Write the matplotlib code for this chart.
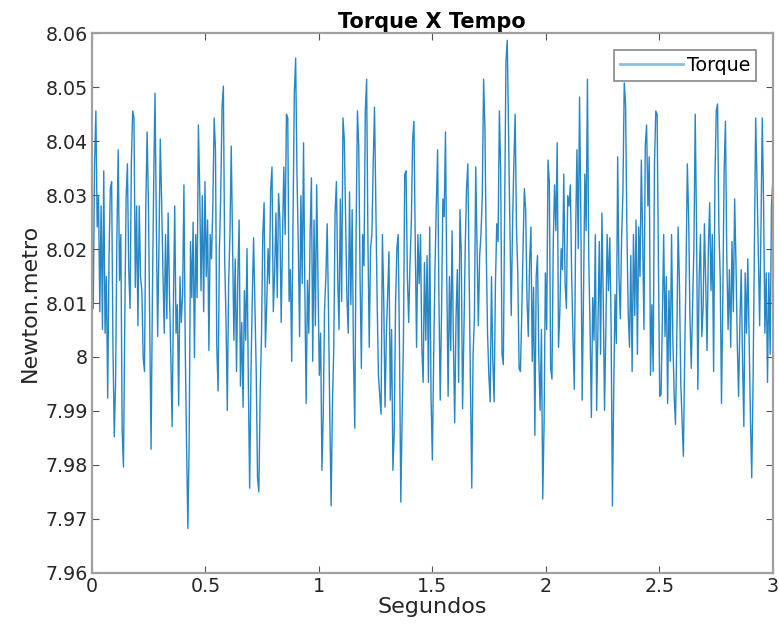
import matplotlib.pyplot as plt
import numpy as np

# Leituras do torque (N.m), em blocos de ~0.5 s
torque_0 = [8.0175, 8.0090, 8.0358, 8.0456, 8.0241, 8.0299, 8.0084, 8.0280, 8.0051, 8.0345,
            8.0044, 8.0149, 7.9924, 8.0182, 8.0312, 8.0325, 8.0018, 7.9852, 7.9953, 8.0221,
            8.0384, 8.0142, 8.0227, 7.9865, 7.9796, 8.0067, 8.0293, 8.0358, 8.0162, 8.0090,
            8.0358, 8.0456, 8.0443, 8.0129, 8.0280, 8.0058, 8.0280, 8.0149, 8.0123, 7.9999,
            7.9973, 8.0280, 8.0417, 8.0280, 8.0051, 7.9829, 8.0110, 8.0325, 8.0489, 8.0247,
            8.0038, 8.0205, 8.0404, 8.0293, 8.0162, 8.0044, 8.0227, 8.0071, 8.0267, 8.0116,
            8.0005, 7.9871, 8.0097, 8.0280, 8.0044, 8.0097, 7.9910, 8.0149, 8.0064, 8.0116,
            8.0319, 8.0018, 7.9835, 7.9682, 7.9848, 8.0214, 8.0110, 8.0250, 7.9999, 8.0227,
            8.0110, 8.0430, 8.0312]
torque_1 = [8.0123, 8.0299, 8.0084, 8.0325, 8.0149, 8.0254, 8.0012, 8.0227, 8.0182, 8.0280,
            8.0443, 8.0384, 8.0018, 7.9937, 8.0201, 8.0299, 8.0463, 8.0502, 8.0182, 8.0071,
            7.9901, 8.0136, 8.0227, 8.0391, 8.0208, 8.0031, 8.0182, 7.9973, 8.0149, 8.0254,
            7.9946, 8.0064, 7.9907, 8.0123, 8.0031, 8.0201, 7.9953, 7.9757, 7.9966, 8.0110,
            8.0221, 8.0097, 7.9973, 7.9776, 7.9750, 7.9933, 8.0038, 8.0227, 8.0286, 8.0018,
            8.0097, 8.0201, 8.0136, 8.0312, 8.0352, 8.0084, 8.0156, 8.0267, 8.0110, 8.0303,
            8.0254, 8.0064, 8.0221, 8.0352, 8.0227, 8.0450, 8.0443, 8.0103, 8.0162, 7.9992,
            8.0254, 8.0489, 8.0554, 8.0339, 8.0208, 8.0038, 8.0299, 8.0136, 8.0397, 8.0123,
            7.9914, 8.0142, 8.0044, 8.0227, 8.0332, 7.9992]
torque_2 = [8.0254, 8.0058, 8.0319, 8.0149, 7.9966, 8.0044, 7.9790, 7.9894, 8.0090, 8.0149,
            8.0247, 8.0084, 7.9888, 7.9724, 7.9914, 8.0018, 8.0267, 8.0325, 8.0149, 8.0051,
            8.0293, 8.0103, 8.0443, 8.0404, 8.0260, 8.0110, 8.0044, 8.0306, 8.0097, 8.0273,
            7.9999, 7.9868, 8.0234, 8.0456, 8.0391, 8.0149, 7.9979, 8.0227, 8.0169, 8.0456,
            8.0515, 8.0214, 8.0018, 8.0201, 8.0227, 8.0358, 8.0463, 8.0286, 8.0103, 7.9966,
            7.9927, 7.9894, 8.0227, 8.0110, 7.9907, 8.0038, 8.0116, 8.0195, 7.9920, 8.0051,
            7.9790, 7.9861, 8.0097, 8.0201, 8.0227, 8.0018, 7.9731, 7.9888, 8.0031, 8.0339,
            8.0345, 8.0149, 8.0064, 8.0175, 8.0247, 8.0404, 8.0437, 8.0208, 8.0018, 8.0227,
            8.0136, 8.0227, 8.0018, 7.9953, 8.0175]
torque_3 = [8.0031, 8.0188, 7.9953, 8.0241, 7.9927, 7.9809, 7.9999, 8.0162, 8.0280, 8.0384,
            8.0110, 7.9920, 8.0084, 8.0293, 8.0260, 8.0417, 8.0136, 7.9927, 8.0149, 8.0012,
            8.0234, 8.0031, 7.9878, 8.0071, 8.0162, 7.9953, 8.0273, 8.0195, 7.9904, 8.0044,
            8.0201, 8.0312, 8.0358, 8.0149, 7.9946, 7.9757, 8.0005, 8.0071, 8.0352, 8.0201,
            8.0058, 8.0188, 8.0227, 8.0299, 8.0515, 8.0424, 8.0201, 8.0044, 7.9966, 7.9917,
            8.0149, 7.9992, 7.9917, 8.0136, 8.0247, 8.0214, 8.0456, 8.0345, 8.0005, 7.9986,
            8.0260, 8.0548, 8.0587, 8.0410, 8.0241, 8.0077, 8.0241, 8.0358, 8.0450, 8.0241,
            8.0156, 7.9979, 7.9973, 8.0077, 8.0201, 8.0312, 8.0273, 8.0110, 8.0038, 8.0175,
            8.0241, 7.9992, 8.0129, 7.9855, 8.0149]
torque_4 = [8.0188, 7.9999, 7.9901, 8.0051, 7.9737, 7.9875, 8.0156, 8.0051, 8.0365, 8.0325,
            7.9979, 7.9959, 8.0214, 8.0319, 8.0234, 8.0397, 8.0018, 8.0084, 8.0201, 8.0162,
            8.0339, 8.0136, 8.0090, 8.0299, 8.0280, 8.0319, 8.0149, 8.0038, 7.9940, 8.0227,
            8.0384, 8.0201, 8.0482, 8.0254, 7.9920, 8.0110, 8.0339, 8.0234, 8.0515, 8.0182,
            8.0051, 7.9888, 8.0110, 8.0031, 8.0227, 7.9901, 8.0064, 8.0214, 8.0005, 8.0267,
            8.0110, 7.9901, 8.0051, 8.0227, 8.0123, 8.0221, 8.0058, 7.9724, 7.9940, 8.0116,
            8.0025, 8.0371, 8.0149, 8.0071, 8.0221, 8.0306, 8.0508, 8.0469, 8.0241, 8.0084,
            8.0018, 8.0188, 7.9973, 8.0227, 8.0077, 8.0254, 8.0005, 8.0241, 8.0149, 8.0365,
            8.0221, 8.0051, 8.0391, 8.0430]
torque_5 = [8.0280, 8.0371, 7.9966, 8.0097, 7.9973, 8.0358, 8.0456, 8.0450, 8.0175, 7.9927,
            7.9930, 8.0071, 8.0227, 8.0038, 8.0149, 7.9914, 8.0123, 7.9992, 8.0227, 8.0031,
            7.9927, 7.9875, 8.0038, 8.0241, 8.0136, 7.9953, 7.9881, 7.9816, 8.0005, 8.0156,
            8.0358, 8.0260, 8.0071, 7.9979, 8.0097, 8.0201, 8.0450, 8.0241, 7.9940, 8.0149,
            8.0227, 8.0038, 8.0090, 8.0247, 8.0136, 8.0012, 8.0201, 8.0286, 8.0123, 8.0227,
            7.9973, 8.0332, 8.0456, 8.0469, 8.0241, 8.0149, 7.9914, 8.0110, 8.0345, 8.0437,
            8.0188, 8.0051, 8.0162, 8.0018, 8.0214, 8.0084, 8.0293, 8.0175, 8.0025, 7.9927,
            8.0064, 8.0162, 7.9992, 7.9871, 8.0156, 8.0044, 8.0182, 8.0031, 7.9888, 7.9776,
            7.9953, 8.0201, 8.0443, 8.0325, 8.0188, 8.0058, 8.0234, 8.0443, 8.0286, 8.0044,
            8.0156, 7.9953, 8.0156, 8.0005, 8.0280, 8.0325]

torque = np.array(torque_0 + torque_1 + torque_2 + torque_3 + torque_4 + torque_5)
tempo = np.linspace(0, 3, len(torque))

y_ticks = [7.96, 7.97, 7.98, 7.99, 8.00, 8.01, 8.02, 8.03, 8.04, 8.05, 8.06]
x_ticks = [0, 0.5, 1, 1.5, 2, 2.5, 3]

cor_eixo = '#262626'
cor_borda = '#a0a0a0'

fig = plt.figure(figsize=(7.79, 6.4), dpi=100)
ax = fig.add_axes([0.118, 0.105, 0.874, 0.843])

ax.plot(tempo, torque, color='#0072BD', linewidth=1.0, alpha=0.85, label='Torque')

ax.set_xlim(0, 3)
ax.set_ylim(7.96, 8.06)
ax.set_xticks(x_ticks)
ax.set_xticklabels([f'{v:g}' for v in x_ticks])
ax.set_yticks(y_ticks)
ax.set_yticklabels([f'{v:g}' for v in y_ticks])

ax.tick_params(direction='in', top=True, right=True, length=5, width=0.8,
               colors=cor_eixo, labelsize=13.7, color='#555555', pad=3)
for s in ax.spines.values():
    s.set_color(cor_borda)
    s.set_linewidth(1.6)

ax.set_title('Torque X Tempo', fontsize=15, fontweight='bold', color='black', pad=4)
ax.set_xlabel('Segundos', fontsize=16, color=cor_eixo, labelpad=1)
ax.set_ylabel('Newton.metro', fontsize=16, color=cor_eixo, labelpad=4)

leg = ax.legend(loc='upper right', fontsize=13.7, fancybox=False, framealpha=1,
                edgecolor='#888888', handlelength=3.3, borderpad=0.3,
                borderaxespad=0.9, handletextpad=0.2)
leg.get_frame().set_linewidth(1.2)
leg.get_lines()[0].set_alpha(0.45)
leg.get_lines()[0].set_linewidth(2.0)

fig.savefig('out.png', dpi=100)
